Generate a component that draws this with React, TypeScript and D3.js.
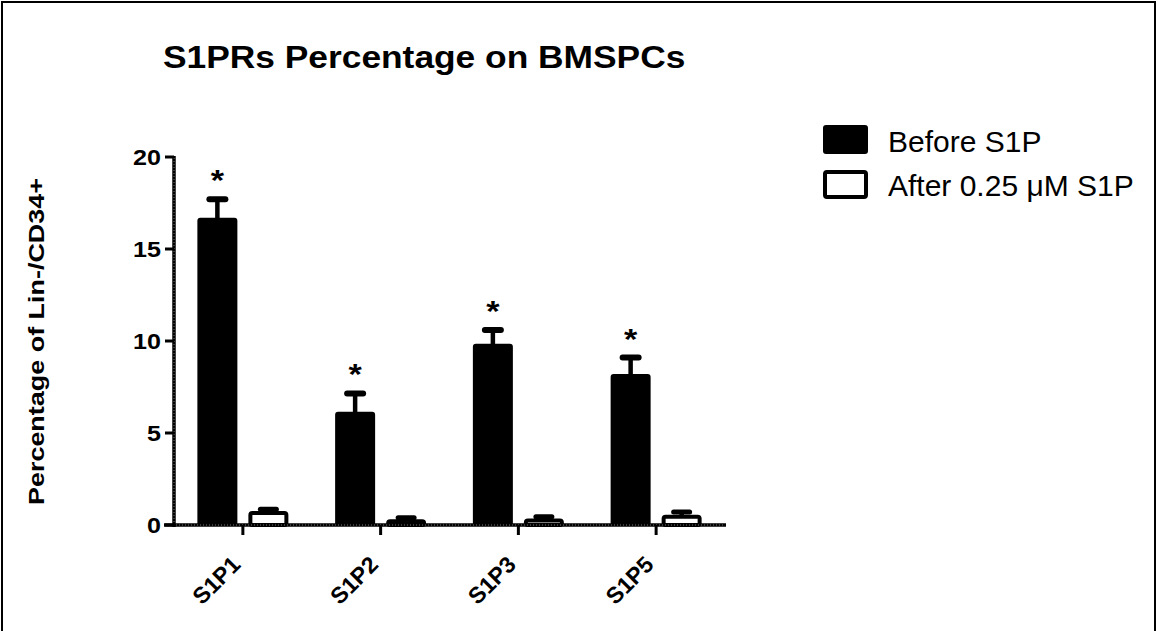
import React from "react";
import * as d3 from "d3";

const categories = ["S1P1", "S1P2", "S1P3", "S1P5"];
const beforeValues = [16.65, 6.1, 9.8, 8.15];
const beforeErrors = [1.05, 1.05, 0.8, 0.95];
const afterValues = [0.65, 0.2, 0.25, 0.45];
const afterErrors = [0.2, 0.2, 0.2, 0.25];
const yTicks = [0, 5, 10, 15, 20];
const significant = [true, true, true, true];
const seriesNames = ["Before S1P", "After 0.25 \u03bcM S1P"];

const W = 1158;
const H = 631;
const SX = 1.14;
const FONT = "'Liberation Sans', Arial, Helvetica, sans-serif";

function SText({ x, y, size, weight = "bold", anchor = "start", rotate = 0, children, dy = "0", sx = SX }: any) {
  return (
    <g transform={`translate(${x},${y}) scale(${sx},1) rotate(${rotate})`}>
      <text
        x={0}
        y={0}
        dy={dy}
        fontFamily={FONT}
        fontSize={size}
        fontWeight={weight}
        textAnchor={anchor}
        fill="#000"
      >
        {children}
      </text>
    </g>
  );
}

export default function App() {
  const y = d3.scaleLinear().domain([0, 20]).range([525, 157]);
  const x = d3.scaleBand<string>().domain(categories).range([174, 725]).padding(0);
  const bw = 38;
  const center = (c: string) => (x(c) as number) + x.bandwidth() / 2;
  const barX = (c: string, s: number) => center(c) + (s === 0 ? -25.5 : 25.5) - bw / 2;

  return (
    <svg width={W} height={H} style={{ position: "absolute", left: 0, top: 0, background: "#fff" }}>
      <rect x={0} y={0} width={W} height={H} fill="#fff" />
      <rect x={2} y={2} width={1153} height={H + 10} fill="none" stroke="#000" strokeWidth={2} />

      {/* Title */}
      <SText x={163} y={68} size={31}>S1PRs Percentage on BMSPCs</SText>

      {/* Y label */}
      <text
        transform="translate(44,341.5) rotate(-90)"
        fontFamily={FONT}
        fontSize={22}
        fontWeight="bold"
        textAnchor="middle"
        textLength={327}
        lengthAdjust="spacingAndGlyphs"
      >
        Percentage of Lin-/CD34+
      </text>

      {/* bars: before */}
      {categories.map((c, i) => {
        const bx = barX(c, 0);
        const cx = bx + bw / 2;
        const top = y(beforeValues[i]);
        const et = y(beforeValues[i] + beforeErrors[i]);
        return (
          <g key={"b" + c}>
            <line x1={cx} x2={cx} y1={top} y2={et} stroke="#000" strokeWidth={4.5} />
            <line x1={cx - 8} x2={cx + 8} y1={et} y2={et} stroke="#000" strokeWidth={6} strokeLinecap="round" />
            <rect x={bx} y={top} width={bw} height={y(0) - top} fill="#000" stroke="#000" strokeWidth={2} strokeLinejoin="round" rx={2} />
            {significant[i] && (
              <SText x={cx} y={et - 9} size={30} anchor="middle">*</SText>
            )}
          </g>
        );
      })}

      {/* bars: after */}
      {categories.map((c, i) => {
        const bx = barX(c, 1);
        const cx = bx + bw / 2;
        const top = y(afterValues[i]);
        const et = y(afterValues[i] + afterErrors[i]);
        return (
          <g key={"a" + c}>
            <line x1={cx} x2={cx} y1={top} y2={et} stroke="#000" strokeWidth={4.5} />
            <line x1={cx - 8} x2={cx + 8} y1={et} y2={et} stroke="#000" strokeWidth={5} strokeLinecap="round" />
            <rect x={bx + 1} y={top} width={bw - 2} height={y(0) - top} fill="#fff" stroke="#000" strokeWidth={4} strokeLinejoin="round" rx={2} />
          </g>
        );
      })}

      {/* axes */}
      <line x1={174} x2={174} y1={156} y2={527} stroke="#000" strokeWidth={3.5} />
      <line x1={164} x2={726} y1={525} y2={525} stroke="#000" strokeWidth={3.5} />
      <line x1={174} x2={174} y1={158} y2={523} stroke="#777" strokeWidth={1} strokeDasharray="1,2" />
      <line x1={176} x2={724} y1={525} y2={525} stroke="#777" strokeWidth={1} strokeDasharray="1,2" />
      {yTicks.map((t) => (
        <g key={"yt" + t}>
          <line x1={165} x2={174} y1={y(t)} y2={y(t)} stroke="#000" strokeWidth={3} />
          <SText x={161} y={y(t)} size={22} anchor="end" dy="0.36em">{t}</SText>
        </g>
      ))}
      {categories.map((c) => (
        <g key={"xt" + c}>
          <line x1={center(c)} x2={center(c)} y1={525} y2={535} stroke="#000" strokeWidth={3} />
          <text
            transform={`translate(${center(c) - 1},${566}) rotate(-45)`}
            fontFamily={FONT}
            fontSize={23}
            fontWeight="bold"
            textAnchor="end"
          >
            {c}
          </text>
        </g>
      ))}

      {/* legend */}
      <rect x={824} y={126} width={43} height={27} fill="#000" stroke="#000" strokeWidth={2} rx={2} />
      <SText x={888} y={152} size={30} weight="normal" sx={1}>{seriesNames[0]}</SText>
      <rect x={825} y={172} width={41} height={25} fill="#fff" stroke="#000" strokeWidth={4} rx={2} />
      <SText x={888} y={196} size={30} weight="normal" sx={1}>{seriesNames[1]}</SText>
    </svg>
  );
}
